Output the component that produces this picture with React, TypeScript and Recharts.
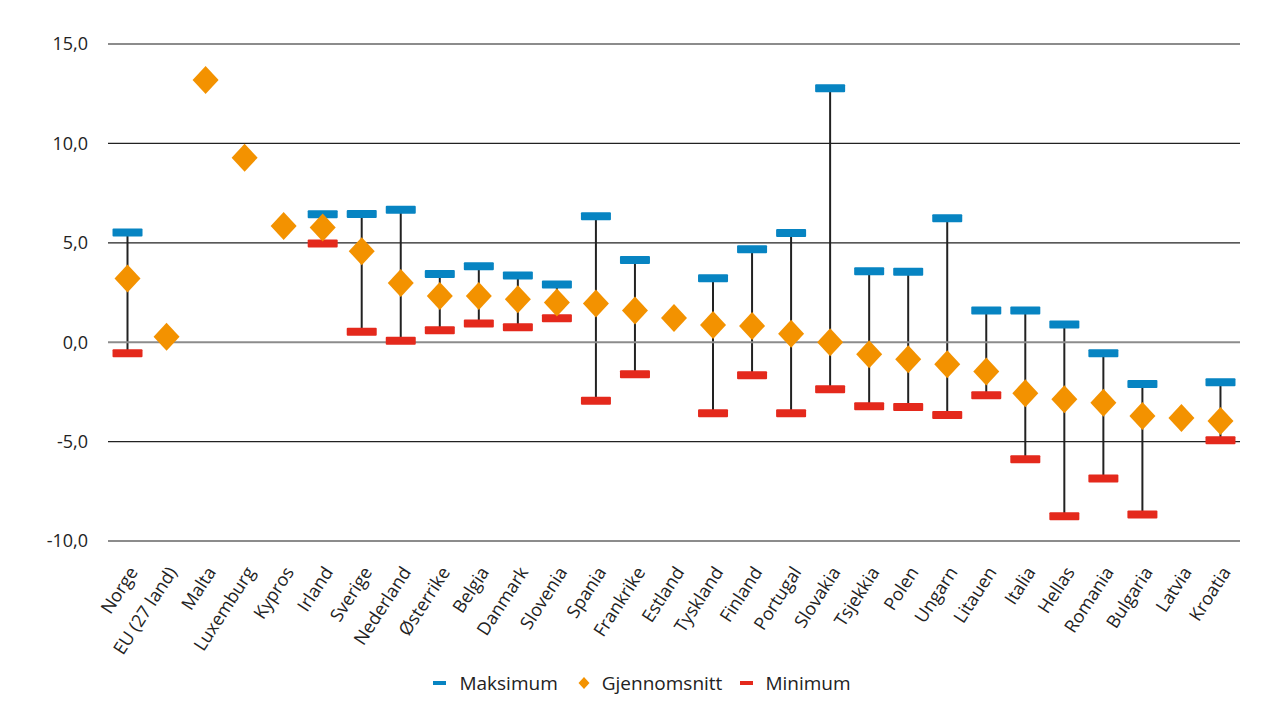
import React from 'react';
import { ComposedChart, Bar, Line, XAxis, YAxis, ReferenceLine, Legend } from 'recharts';

const categories = ['Norge', 'EU (27 land)', 'Malta', 'Luxemburg', 'Kypros', 'Irland', 'Sverige', 'Nederland', 'Østerrike', 'Belgia', 'Danmark', 'Slovenia', 'Spania', 'Frankrike', 'Estland', 'Tyskland', 'Finland', 'Portugal', 'Slovakia', 'Tsjekkia', 'Polen', 'Ungarn', 'Litauen', 'Italia', 'Hellas', 'Romania', 'Bulgaria', 'Latvia', 'Kroatia'];

const maxValues: (number | null)[] = [5.52, null, null, null, null, 6.43, 6.45, 6.66, 3.43, 3.82, 3.36, 2.9, 6.34, 4.14, null, 3.22, 4.68, 5.49, 12.77, 3.57, 3.54, 6.24, 1.6, 1.6, 0.89, -0.55, -2.1, null, -2.01];

const avgValues: number[] = [3.2, 0.27, 13.19, 9.28, 5.84, 5.77, 4.58, 2.98, 2.33, 2.33, 2.16, 2.0, 1.95, 1.6, 1.22, 0.86, 0.82, 0.42, 0.0, -0.6, -0.86, -1.11, -1.48, -2.57, -2.87, -3.05, -3.71, -3.81, -3.96];

const minValues: (number | null)[] = [-0.55, null, null, null, null, 4.97, 0.52, 0.07, 0.6, 0.94, 0.75, 1.21, -2.95, -1.61, null, -3.57, -1.66, -3.57, -2.37, -3.22, -3.26, -3.66, -2.67, -5.89, -8.76, -6.86, -8.67, null, -4.93];

const yTicks = [-10, -5, 0, 5, 10, 15];
const seriesNames = { max: 'Maksimum', avg: 'Gjennomsnitt', min: 'Minimum' };

const data = categories.map((name, i) => ({
  name,
  max: maxValues[i],
  avg: avgValues[i],
  min: minValues[i],
  range: maxValues[i] != null && minValues[i] != null ? [minValues[i], maxValues[i]] : null,
}));

const BLUE = '#0784c2';
const ORANGE = '#f39200';
const RED = '#e4291c';
const INK = '#222222';
const FONT = '"Open Sans", sans-serif';

const RangeShape = (props: any) => {
  const { x, y, width, height, payload } = props;
  if (!payload || !payload.range || height == null || isNaN(height)) return <g />;
  const cx = x + width / 2;
  const top = Math.min(y, y + height);
  const bottom = Math.max(y, y + height);
  return <line x1={cx} x2={cx} y1={top} y2={bottom} stroke={INK} strokeWidth={2} />;
};

const makeBarDot = (color: string, prefix: string) => (props: any) => {
  const { cx, cy, index } = props;
  if (cx == null || cy == null || isNaN(cy)) return <g key={`${prefix}-${index}`} />;
  return <rect key={`${prefix}-${index}`} x={cx - 15} y={cy - 4} width={30} height={8} rx={1} fill={color} />;
};

const DiamondDot = (props: any) => {
  const { cx, cy, index } = props;
  if (cx == null || cy == null || isNaN(cy)) return <g key={`avg-${index}`} />;
  const w = 13;
  const h = 14;
  return (
    <polygon
      key={`avg-${index}`}
      points={`${cx},${cy - h} ${cx + w},${cy} ${cx},${cy + h} ${cx - w},${cy}`}
      fill={ORANGE}
    />
  );
};

const XTick = (props: any) => {
  const { x, y, payload } = props;
  const ax = x + 11;
  const ay = y + 31;
  return (
    <text
      x={ax}
      y={ay}
      textAnchor="end"
      transform={`rotate(-57, ${ax}, ${ay})`}
      fontFamily={FONT}
      fontSize={18}
      fill={INK}
    >
      {payload.value}
    </text>
  );
};

const LegendContent = () => (
  <div
    style={{
      height: 24,
      display: 'flex',
      justifyContent: 'center',
      alignItems: 'center',
      fontFamily: FONT,
      fontSize: 19,
      color: INK,
      paddingLeft: 36,
      boxSizing: 'border-box',
    }}
  >
    <span style={{ display: 'inline-block', width: 13, height: 4, background: BLUE, marginRight: 13 }} />
    <span style={{ marginRight: 20 }}>{seriesNames.max}</span>
    <svg width={12} height={14} style={{ marginRight: 12 }}>
      <polygon points="6,1 11.5,7 6,13 0.5,7" fill={ORANGE} />
    </svg>
    <span style={{ marginRight: 18 }}>{seriesNames.avg}</span>
    <span style={{ display: 'inline-block', width: 13, height: 4, background: RED, marginRight: 12 }} />
    <span>{seriesNames.min}</span>
  </div>
);

export default function App() {
  return (
    <div style={{ position: 'relative', width: 1276, height: 704, margin: -8, overflow: 'hidden' }}>
      <svg
        width={1276}
        height={704}
        style={{ position: 'absolute', left: 0, top: 0 }}
      >
        <line x1={6} y1={7} x2={1276} y2={7} stroke="#999999" strokeWidth={2} />
        <line x1={6} y1={6} x2={6} y2={704} stroke="#333333" strokeWidth={2} />
      </svg>
      <div style={{ position: 'absolute', left: 0, top: 0 }}>
        <ComposedChart
          width={1276}
          height={704}
          data={data}
          margin={{ top: 44, right: 36, left: 8, bottom: 9 }}
          barCategoryGap={0}
        >
          <XAxis
            dataKey="name"
            interval={0}
            axisLine={false}
            tickLine={false}
            tickSize={0}
            tickMargin={0}
            height={130}
            tick={<XTick />}
          />
          <YAxis
            type="number"
            domain={[-10, 15]}
            ticks={yTicks}
            interval={0}
            axisLine={false}
            tickLine={false}
            tickSize={0}
            tickMargin={20}
            width={100}
            tick={{ fill: INK, fontSize: 18, fontFamily: FONT }}
            tickFormatter={(v: number) => v.toFixed(1).replace('.', ',')}
          />
          {yTicks.map((t) => (
            <ReferenceLine
              key={`g${t}`}
              y={t}
              stroke={t === 15 || t === 0 || t === -10 ? '#8c8c8c' : '#222'}
              strokeWidth={t === 15 || t === 0 || t === -10 ? 2 : 1.3}
              ifOverflow="extendDomain"
            />
          ))}
          <Bar dataKey="range" shape={<RangeShape />} isAnimationActive={false} legendType="none" />
          <Line dataKey="min" name={seriesNames.min} stroke="none" dot={makeBarDot(RED, 'min')} activeDot={false} isAnimationActive={false} />
          <Line dataKey="max" name={seriesNames.max} stroke="none" dot={makeBarDot(BLUE, 'max')} activeDot={false} isAnimationActive={false} />
          <Line dataKey="avg" name={seriesNames.avg} stroke="none" dot={<DiamondDot />} activeDot={false} isAnimationActive={false} />
          <Legend verticalAlign="bottom" align="center" content={<LegendContent />} />
        </ComposedChart>
      </div>
    </div>
  );
}
